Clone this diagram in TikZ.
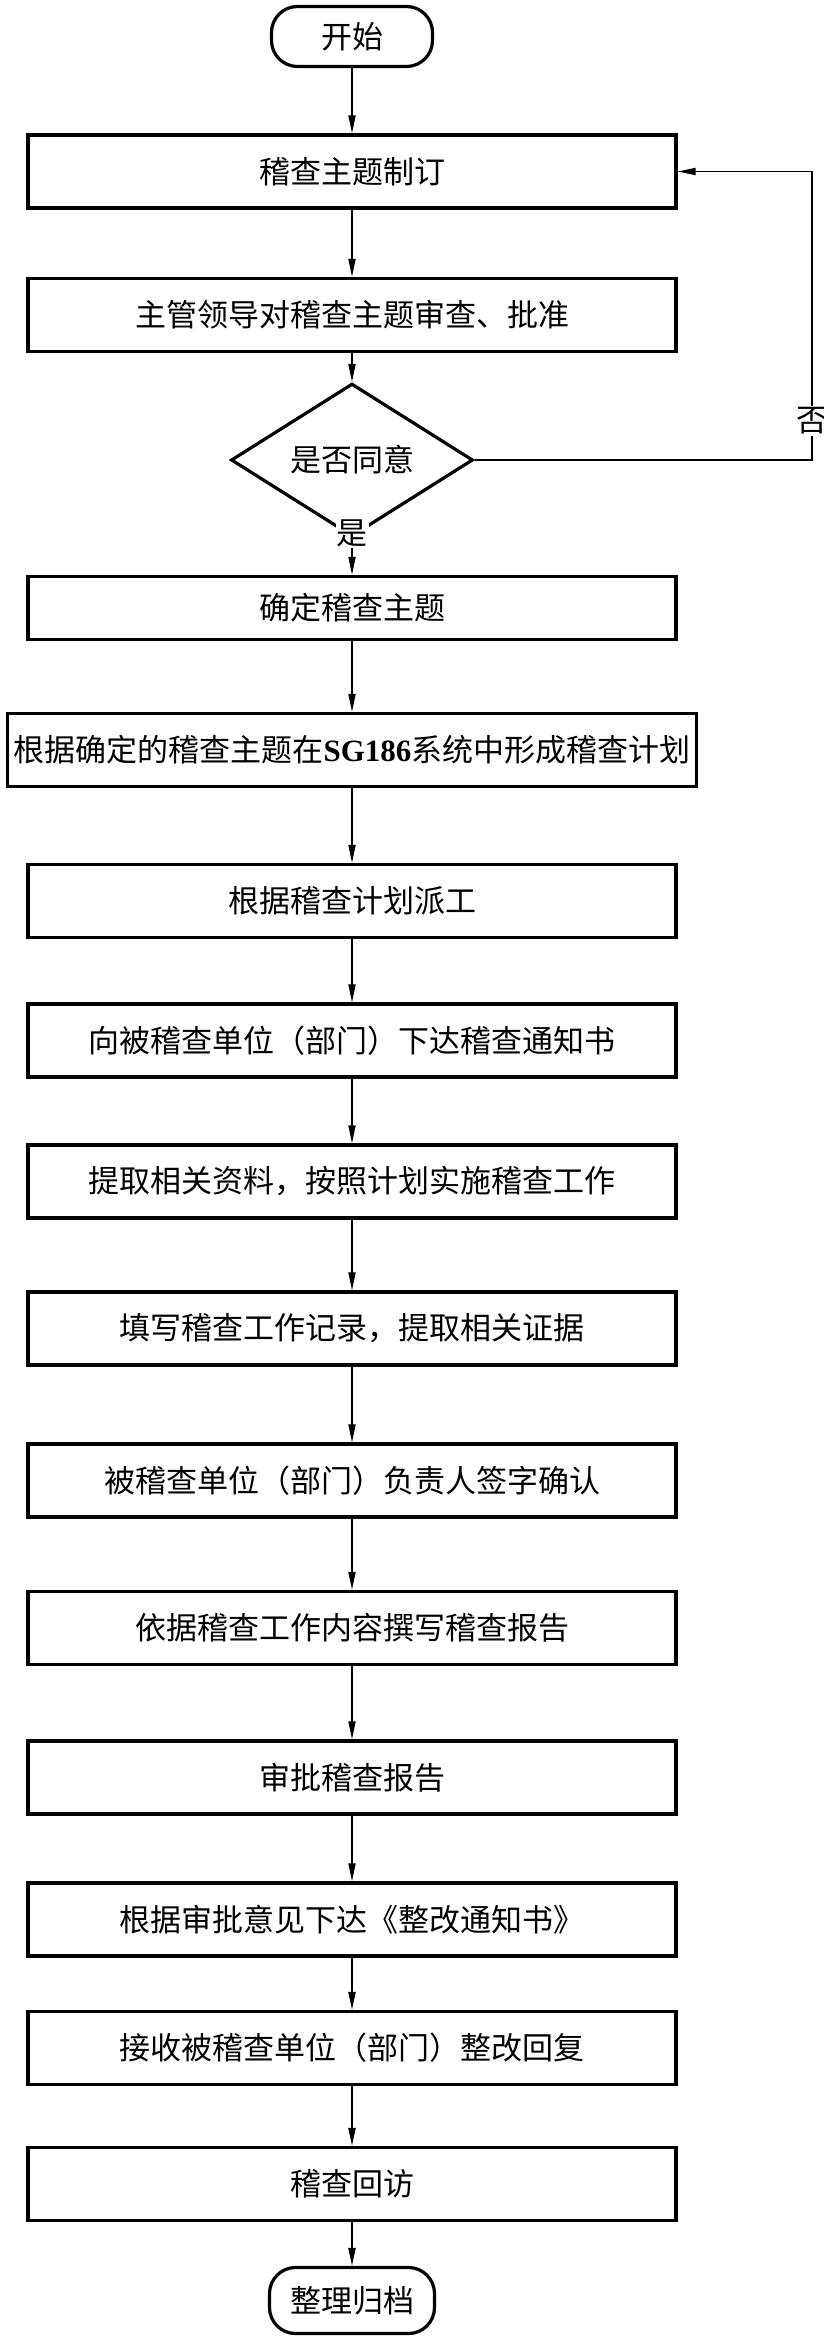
\documentclass[tikz,border=0pt]{standalone}
\usepackage{fontspec}
\setmainfont{Liberation Serif}
\newfontfamily\cjk{Noto Sans CJK SC}
\usetikzlibrary{arrows.meta, shapes.geometric}

\begin{document}
\begin{tikzpicture}[x=1pt, y=-1pt,
    font=\fontsize{31pt}{31pt}\selectfont\cjk,
    >={Triangle[length=18pt, width=7pt]},
    proc/.style={draw, line width=3.2pt, minimum width=648pt, minimum height=73pt, inner sep=0pt},
    term/.style={draw, line width=3.2pt, rounded corners=26pt, minimum width=161pt, minimum height=60pt, inner sep=0pt},
    flow/.style={line width=1.8pt, ->}]
  \useasboundingbox (0, 0) rectangle (823, 2339);

  \node[term] (start) at (352, 36.5) {开始};
  \node[proc] (topic) at (352, 171.5) {稽查主题制订};
  \node[proc] (review) at (352, 315) {主管领导对稽查主题审查、批准};
  \node[diamond, draw, line width=3.2pt, minimum width=242pt, minimum height=105pt, inner sep=0pt] (agree) at (352, 460) {是否同意};
  \node[proc, minimum height=63pt] (fix) at (352, 608) {确定稽查主题};
  \node[proc, minimum width=689pt] (plan) at (352, 750) {根据确定的稽查主题在{\rmfamily\bfseries SG186}系统中形成稽查计划};
  \node[proc] (assign) at (352, 901) {根据稽查计划派工};
  \node[proc] (notice) at (352, 1040.5) {向被稽查单位（部门）下达稽查通知书};
  \node[proc] (collect) at (352, 1181.5) {提取相关资料，按照计划实施稽查工作};
  \node[proc] (record) at (352, 1328.5) {填写稽查工作记录，提取相关证据};
  \node[proc] (sign) at (352, 1480.5) {被稽查单位（部门）负责人签字确认};
  \node[proc] (report) at (352, 1628) {依据稽查工作内容撰写稽查报告};
  \node[proc] (approve) at (352, 1777.5) {审批稽查报告};
  \node[proc] (rectify) at (352, 1919.5) {根据审批意见下达《整改通知书》};
  \node[proc] (reply) at (352, 2048) {接收被稽查单位（部门）整改回复};
  \node[proc] (revisit) at (352, 2184) {稽查回访};
  \node[term, minimum width=165pt, minimum height=66pt] (archive) at (352, 2300.5) {整理归档};

  % main line
  \foreach \a/\b in {start/topic, topic/review, review/agree, fix/plan, plan/assign,
      assign/notice, notice/collect, collect/record, record/sign, sign/report,
      report/approve, approve/rectify, rectify/reply, reply/revisit, revisit/archive}
    \draw[flow] (\a) -- (\b);

  % yes / no
  \draw[flow] (agree) -- (fix);
  \node[fill=white, inner sep=1pt] (yes) at (352, 533) {是};
  \coordinate (back) at (812, 300);
  \draw[flow] (agree.east) -| (back) |- (topic.east);
  \node[fill=white, inner sep=2pt] (no) at (812, 421) {否};
\end{tikzpicture}
\end{document}
